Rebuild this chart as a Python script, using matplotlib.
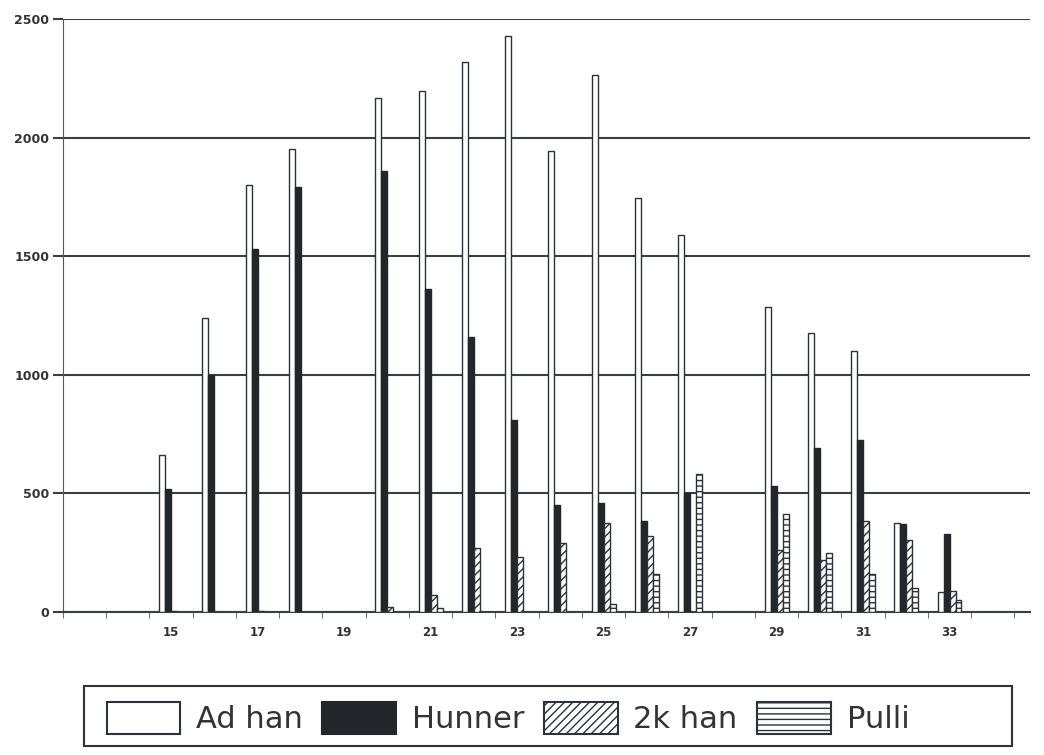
import matplotlib
matplotlib.use("Agg")
import matplotlib.pyplot as plt
import numpy as np
from matplotlib.patches import Rectangle, Patch

plt.rcParams['hatch.linewidth'] = 1.0

categories = list(range(13, 35))
ad_han = [0, 0, 660, 1240, 1800, 1950, 0, 2165, 2195, 2320, 2430, 1945, 2265, 1745, 1590, 0, 1285, 1175, 1100, 375, 85, 0]
hunner = [0, 0, 520, 1000, 1530, 1790, 0, 1860, 1360, 1160, 810, 450, 460, 385, 500, 0, 530, 690, 725, 370, 330, 0]
k2_han = [0, 0, 5, 0, 5, 0, 0, 20, 70, 270, 230, 290, 375, 320, 0, 0, 260, 220, 385, 305, 90, 0]
pulli = [0, 0, 0, 0, 0, 0, 0, 0, 15, 0, 0, 0, 35, 160, 580, 0, 415, 250, 160, 100, 50, 0]
series_names = ["Ad han", "Hunner", "2k han", "Pulli"]
yticks = [0, 500, 1000, 1500, 2000, 2500]
xlabels = list(range(15, 34, 2))

fig = plt.figure(figsize=(10.44, 7.55), dpi=100)
ax = fig.add_axes([63/1044, 143/755, 967/1044, 593/755])

edge = "#2b3238"
dark = "#23272b"
x = np.array(categories, dtype=float)
w = 0.138
styles = [
    dict(facecolor="white", edgecolor=edge, hatch=None),
    dict(facecolor=dark, edgecolor=dark, hatch=None),
    dict(facecolor="white", edgecolor=edge, hatch="////"),
    dict(facecolor="white", edgecolor=edge, hatch="---"),
]
for i, (vals, st) in enumerate(zip([ad_han, hunner, k2_han, pulli], styles)):
    ax.bar(x + (i - 1.5) * w, vals, width=w, linewidth=1.0, zorder=3, **st)

ax.set_xlim(12.58, 34.86)
ax.set_ylim(0, 2500)
ax.set_yticks(yticks)
ax.set_yticklabels([str(v) for v in yticks], fontsize=9, fontweight="bold", color="#333")
ax.yaxis.grid(True, color="#3a3f44", linewidth=1.5, zorder=1)
ax.set_xticks(np.arange(12.5, 35, 1.0), minor=True)
ax.set_xticks(xlabels)
ax.set_xticklabels([str(v) for v in xlabels], fontsize=8.5, fontweight="bold", color="#333")
ax.tick_params(axis="x", which="major", length=0, pad=10)
ax.tick_params(axis="x", which="minor", length=4, direction="out", color="#555")
ax.tick_params(axis="y", length=7, direction="out", color="#3a3f44", width=1.5, pad=3)
for s in ["top", "right"]:
    ax.spines[s].set_visible(False)
ax.spines["left"].set_color("#556")
ax.spines["bottom"].set_color("#3a3f44")
ax.spines["bottom"].set_linewidth(1.5)

# legend
frame = Rectangle((84/1044, (755-746)/755), (1012-84)/1044, (746-686)/755,
                  transform=fig.transFigure, fill=False, edgecolor="#333", linewidth=1.5)
fig.patches.append(frame)
handles = [Patch(**st, linewidth=1.5, label=n) for st, n in zip(styles, series_names)]
fig.legend(handles=handles, loc="center left", bbox_to_anchor=(79/1044, (755-718)/755),
           ncol=4, frameon=False, handlelength=2.42, handleheight=1.24,
           handletextpad=0.5, columnspacing=0.65, labelcolor="#333",
           prop=dict(size=22))

fig.savefig("out.png", dpi=100)
